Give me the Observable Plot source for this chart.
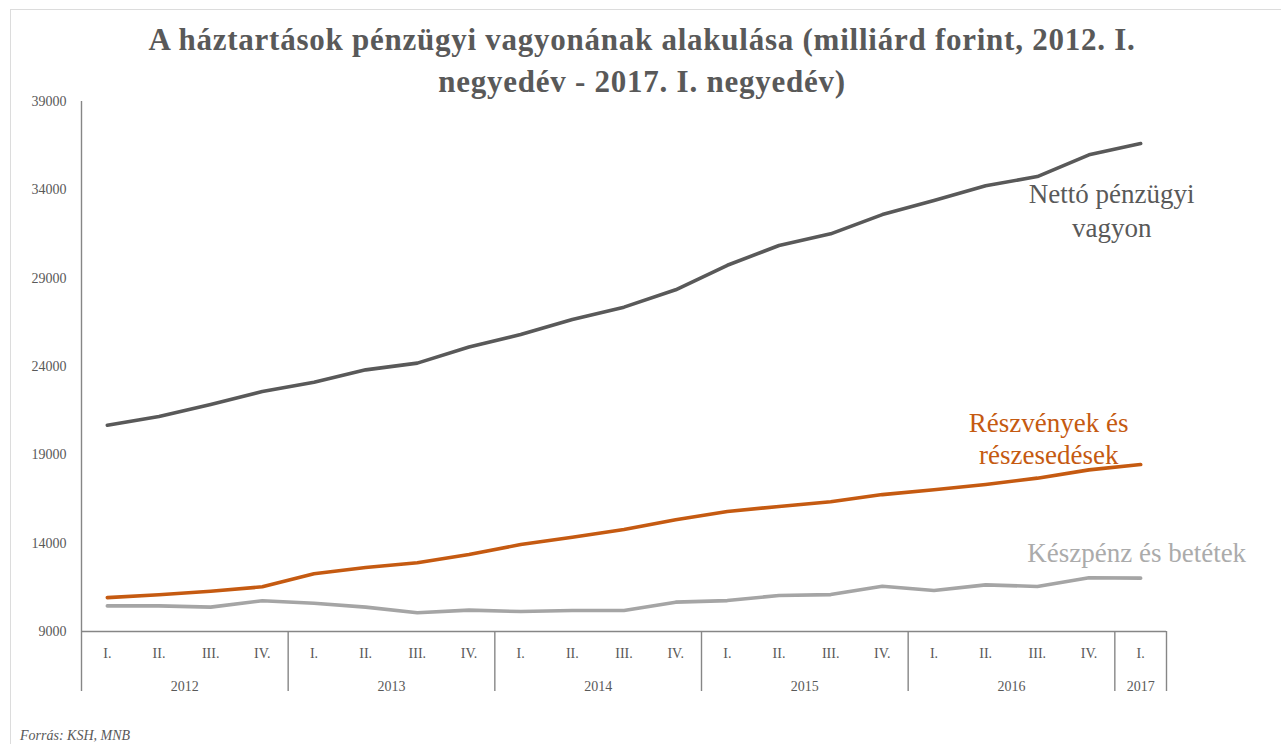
<!DOCTYPE html>
<html>
<head>
<meta charset="utf-8">
<script src="https://cdn.jsdelivr.net/npm/d3@7"></script>
<script src="https://cdn.jsdelivr.net/npm/@observablehq/plot@0.6"></script>
<style>
  html, body { margin: 0; padding: 0; background: #fff; }
  body { width: 1281px; height: 744px; position: relative; overflow: hidden; font-family: "Liberation Serif", serif; }
  #frame { position: absolute; left: 10px; top: 9px; right: -5px; bottom: -5px; border-left: 1.5px solid #dcdcdc; border-top: 1.5px solid #dcdcdc; }
  #title { position: absolute; left: 0; width: 1284px; top: 19px; text-align: center; font-weight: bold; font-size: 31px; letter-spacing: 0.75px; line-height: 42px; color: #595959; }
  #chart { position: absolute; left: 0; top: 90px; }
  #source { position: absolute; left: 20px; top: 728px; font-size: 14px; line-height: 16px; font-style: italic; color: #595959; }
</style>
</head>
<body>
<div id="frame"></div>
<div id="title">A háztartások pénzügyi vagyonának alakulása (milliárd forint, 2012. I.<br>negyedév - 2017. I. negyedév)</div>
<div id="chart"></div>
<div id="source">Forrás: KSH, MNB</div>
<script>
// ---- data ----
const quarters = ["I.","II.","III.","IV.","I.","II.","III.","IV.","I.","II.","III.","IV.","I.","II.","III.","IV.","I.","II.","III.","IV.","I."];
const years = ["2012","2013","2014","2015","2016","2017"];
const quartersPerYear = [4, 4, 4, 4, 4, 1];
const netto =     [20680, 21170, 21850, 22580, 23110, 23810, 24190, 25100, 25810, 26660, 27360, 28340, 29730, 30850, 31510, 32600, 33390, 34230, 34750, 35980, 36620];
const reszvenyek = [10920, 11080, 11280, 11530, 12270, 12620, 12890, 13360, 13920, 14340, 14770, 15320, 15790, 16080, 16340, 16750, 17020, 17320, 17680, 18150, 18450];
const keszpenz =  [10450, 10450, 10380, 10740, 10600, 10380, 10060, 10210, 10130, 10190, 10190, 10660, 10750, 11040, 11090, 11560, 11320, 11640, 11550, 12040, 12020];
const yTicks = [9000, 14000, 19000, 24000, 29000, 34000, 39000];
const seriesNames = ["Nettó pénzügyi\nvagyon", "Részvények és\nrészesedések", "Készpénz és betétek"];
const seriesColors = ["#595959", "#C55A11", "#A5A5A5"];

// ---- derived tables ----
const allSeries = [netto, reszvenyek, keszpenz];
const rows = allSeries.flatMap((vals, s) => vals.map((v, i) => ({i, v, s})));
const quarterRows = quarters.map((q, i) => ({i, q}));
let start = 0;
const yearRows = years.map((y, k) => {
  const r = {year: y, center: start + (quartersPerYear[k] - 1) / 2, left: start - 0.5};
  start += quartersPerYear[k];
  return r;
});
const separators = yearRows.map(d => d.left).concat([quarters.length - 0.5]);
const last = quarters.length - 1;
const axisColor = "#868686";
const yBase = yTicks[0];

const chart = Plot.plot({
  width: 1281,
  height: 620,
  marginTop: 11,
  marginBottom: 79,
  marginLeft: 81,
  marginRight: 115,
  x: {domain: [-0.5, quarters.length - 0.5], axis: null},
  y: {domain: [yTicks[0], yTicks[yTicks.length - 1]], ticks: yTicks, tickSize: 0, tickPadding: 15, tickFormat: d => String(d), label: null},
  style: {fontFamily: "Liberation Serif", fontSize: "14px", color: "#595959", background: "transparent", overflow: "visible"},
  marks: [
    Plot.ruleY([yBase], {stroke: axisColor, strokeWidth: 1.4}),
    Plot.ruleX([-0.5], {y1: yTicks[0], y2: yTicks[yTicks.length - 1], stroke: axisColor, strokeWidth: 1.4}),
    Plot.ruleX(separators, {x: d => d, y1: yBase, y2: yBase, insetBottom: -60, stroke: axisColor, strokeWidth: 1.4}),
    Plot.line(rows, {x: "i", y: "v", z: "s", stroke: d => seriesColors[d.s], strokeWidth: 3.6, strokeLinejoin: "round", strokeLinecap: "round"}),
    Plot.text(quarterRows, {x: "i", y: () => yBase, text: "q", dy: 22, fill: "#595959", fontSize: 14}),
    Plot.text(yearRows, {x: "center", y: () => yBase, text: "year", dy: 55, fill: "#595959", fontSize: 14}),
    Plot.text([0], {x: () => last, y: () => netto[last], text: () => seriesNames[0], dx: -29, dy: 35, lineAnchor: "top", lineHeight: 1.27, fontSize: 27, fill: seriesColors[0], textAnchor: "middle"}),
    Plot.text([0], {x: () => last, y: () => reszvenyek[last], text: () => seriesNames[1], dx: -92, dy: -56, lineAnchor: "top", lineHeight: 1.21, fontSize: 27, fill: seriesColors[1], textAnchor: "middle"}),
    Plot.text([0], {x: () => last, y: () => keszpenz[last], text: () => seriesNames[2], dx: -4, dy: -35, lineAnchor: "top", fontSize: 27, fill: "#ABABAB", textAnchor: "middle"})
  ]
});
document.getElementById("chart").appendChild(chart);
</script>
</body>
</html>
